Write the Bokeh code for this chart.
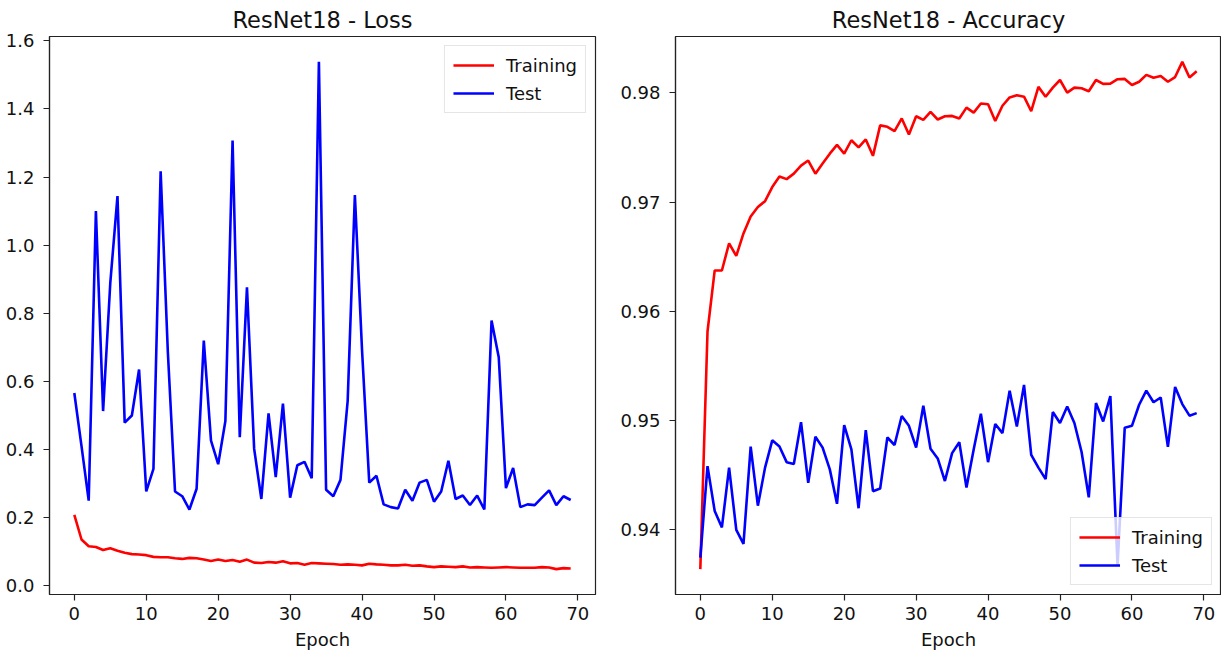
from bokeh.plotting import figure
from bokeh.layouts import row
from bokeh.models import FixedTicker, PrintfTickFormatter, Range1d, Legend, LegendItem
from bokeh.embed import file_html
from bokeh.resources import INLINE

epochs = list(range(70))

train_loss = [0.208, 0.136, 0.116, 0.114, 0.105, 0.110, 0.103, 0.097, 0.093, 0.092,
              0.090, 0.085, 0.084, 0.084, 0.081, 0.079, 0.082, 0.081, 0.077, 0.073,
              0.077, 0.073, 0.076, 0.071, 0.077, 0.068, 0.067, 0.070, 0.068, 0.072,
              0.066, 0.067, 0.062, 0.067, 0.066, 0.065, 0.064, 0.062, 0.063, 0.062,
              0.060, 0.065, 0.063, 0.062, 0.060, 0.060, 0.062, 0.059, 0.060, 0.057,
              0.055, 0.057, 0.056, 0.055, 0.057, 0.054, 0.055, 0.054, 0.053, 0.054,
              0.055, 0.054, 0.053, 0.053, 0.053, 0.055, 0.054, 0.049, 0.052, 0.051]

test_loss = [0.566, 0.410, 0.250, 1.100, 0.513, 0.889, 1.144, 0.479, 0.500, 0.635,
             0.277, 0.343, 1.217, 0.687, 0.277, 0.263, 0.224, 0.285, 0.720, 0.426,
             0.357, 0.484, 1.307, 0.436, 0.876, 0.402, 0.255, 0.506, 0.319, 0.535,
             0.259, 0.354, 0.364, 0.316, 1.538, 0.282, 0.263, 0.311, 0.543, 1.147,
             0.690, 0.303, 0.323, 0.239, 0.231, 0.227, 0.282, 0.250, 0.303, 0.311,
             0.247, 0.277, 0.367, 0.255, 0.265, 0.237, 0.265, 0.224, 0.779, 0.671,
             0.287, 0.346, 0.231, 0.239, 0.237, 0.259, 0.280, 0.237, 0.263, 0.252]

train_acc = [0.93638, 0.95815, 0.96374, 0.96374, 0.96623, 0.96507, 0.96713, 0.96869, 0.96955, 0.97009,
             0.97138, 0.97235, 0.97211, 0.97261, 0.97334, 0.97381, 0.97261, 0.97354, 0.97444, 0.97524,
             0.97444, 0.97567, 0.97501, 0.97574, 0.97424, 0.97703, 0.97690, 0.97650, 0.97767, 0.97620,
             0.97787, 0.97753, 0.97826, 0.97757, 0.97787, 0.97790, 0.97767, 0.97866, 0.97820, 0.97903,
             0.97896, 0.97743, 0.97883, 0.97959, 0.97979, 0.97966, 0.97833, 0.98056, 0.97966, 0.98049,
             0.98119, 0.98003, 0.98049, 0.98043, 0.98016, 0.98119, 0.98083, 0.98086, 0.98126, 0.98129,
             0.98073, 0.98103, 0.98166, 0.98139, 0.98156, 0.98103, 0.98146, 0.98285, 0.98142, 0.98199]

test_acc = [0.93744, 0.94582, 0.94170, 0.94020, 0.94568, 0.93997, 0.93870, 0.94761, 0.94219, 0.94568,
            0.94818, 0.94761, 0.94618, 0.94602, 0.94984, 0.94429, 0.94851, 0.94751, 0.94552, 0.94236,
            0.94957, 0.94735, 0.94196, 0.94911, 0.94352, 0.94376, 0.94844, 0.94775, 0.95041, 0.94951,
            0.94751, 0.95134, 0.94741, 0.94652, 0.94445, 0.94701, 0.94801, 0.94386, 0.94735, 0.95061,
            0.94618, 0.94967, 0.94884, 0.95273, 0.94944, 0.95326, 0.94685, 0.94568, 0.94462, 0.95077,
            0.94977, 0.95127, 0.94977, 0.94711, 0.94296, 0.95160, 0.94991, 0.95223, 0.93671, 0.94934,
            0.94951, 0.95144, 0.95273, 0.95167, 0.95210, 0.94758, 0.95307, 0.95150, 0.95044, 0.95067]

x_ticks = [0, 10, 20, 30, 40, 50, 60, 70]
loss_ticks = [0.0, 0.2, 0.4, 0.6, 0.8, 1.0, 1.2, 1.4, 1.6]
acc_ticks = [0.94, 0.95, 0.96, 0.97, 0.98]

FONT = "DejaVu Sans"
AX = "#222222"


def padded(vals, frac=0.05):
    lo, hi = min(vals), max(vals)
    m = (hi - lo) * frac
    return Range1d(lo - m, hi + m)


def make(title, ys, yticks, yfmt, legend_loc, bl, br):
    p = figure(frame_width=546, frame_height=558, output_backend="svg",
               toolbar_location=None, min_border_left=bl, min_border_right=br,
               min_border_top=31, min_border_bottom=57,
               x_range=padded(epochs), y_range=padded(ys[0] + ys[1]))
    p.title.text = title
    p.title.text_font = FONT
    p.title.text_font_size = "22.5px"
    p.title.text_font_style = "normal"
    p.title.align = "center"
    p.title.standoff = 8
    p.title.text_color = "#111111"
    p.grid.visible = False
    p.outline_line_color = AX
    p.outline_line_width = 1.2
    p.outline_line_alpha = 1.0
    p.background_fill_color = "white"
    p.border_fill_color = "white"
    for ax in (p.xaxis[0], p.yaxis[0]):
        ax.axis_line_color = AX
        ax.axis_line_width = 1.2
        ax.major_tick_line_color = AX
        ax.major_tick_line_width = 1.2
        ax.major_tick_out = 6
        ax.major_tick_in = 0
        ax.minor_tick_line_color = None
        ax.major_label_text_font = FONT
        ax.major_label_text_font_size = "18px"
        ax.major_label_text_color = "#111111"
    p.xaxis.ticker = FixedTicker(ticks=x_ticks)
    p.xaxis.major_label_standoff = 6
    p.xaxis.axis_label = "Epoch"
    p.xaxis.axis_label_text_font = FONT
    p.xaxis.axis_label_text_font_size = "18px"
    p.xaxis.axis_label_text_font_style = "normal"
    p.xaxis.axis_label_text_color = "#111111"
    p.xaxis.axis_label_standoff = 6
    p.yaxis.ticker = FixedTicker(ticks=yticks)
    p.yaxis.formatter = PrintfTickFormatter(format=yfmt)
    p.yaxis.major_label_standoff = 9

    r1 = p.line(epochs, ys[0], line_color="#ff0000", line_width=2.6)
    r2 = p.line(epochs, ys[1], line_color="#0000ff", line_width=2.6)
    leg = Legend(items=[LegendItem(label="Training", renderers=[r1]),
                        LegendItem(label="Test", renderers=[r2])],
                 location=legend_loc)
    leg.margin = 9
    leg.padding = 8
    leg.spacing = 6
    leg.glyph_width = 41
    leg.glyph_height = 22
    leg.label_height = 22
    leg.label_standoff = 12
    leg.label_text_font = FONT
    leg.label_text_font_size = "18px"
    leg.label_text_color = "#111111"
    leg.border_line_color = "#cccccc"
    leg.border_line_width = 1
    leg.background_fill_color = "white"
    leg.background_fill_alpha = 0.8
    p.add_layout(leg, "center")
    return p


p1 = make("ResNet18 - Loss", (train_loss, test_loss), loss_ticks, "%.1f", "top_right", 49, 18)
p2 = make("ResNet18 - Accuracy", (train_acc, test_acc), acc_ticks, "%.2f", "bottom_right", 62, 0)

layout = row(p1, p2)
open("out.html", "w").write(file_html(layout, INLINE))
